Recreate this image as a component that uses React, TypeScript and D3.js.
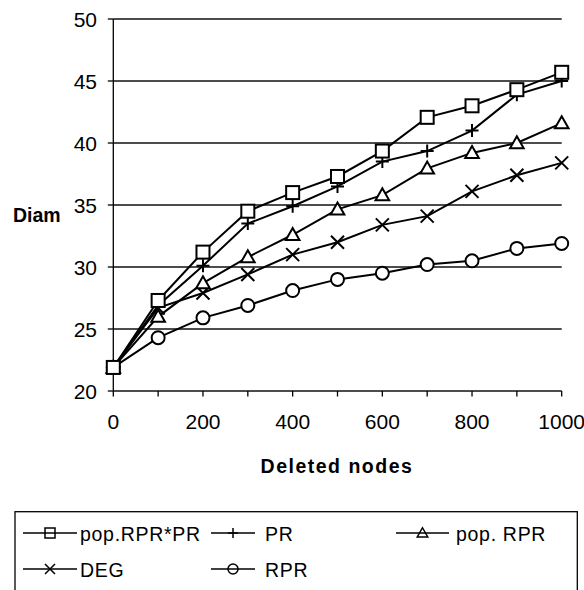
import React from "react";
import * as d3 from "d3";

const xValues = [0, 100, 200, 300, 400, 500, 600, 700, 800, 900, 1000];
const popRprPr = [21.9, 27.3, 31.2, 34.5, 36.0, 37.3, 39.35, 42.07, 43.0, 44.3, 45.7];
const pr = [21.9, 26.9, 30.1, 33.5, 34.9, 36.5, 38.5, 39.35, 41.0, 43.9, 45.0];
const popRpr = [21.9, 26.0, 28.7, 30.8, 32.6, 34.65, 35.8, 37.96, 39.2, 40.0, 41.6];
const deg = [21.9, 26.7, 27.9, 29.4, 31.0, 32.0, 33.4, 34.1, 36.1, 37.4, 38.4];
const rpr = [21.9, 24.3, 25.9, 26.9, 28.1, 29.0, 29.5, 30.2, 30.5, 31.5, 31.9];
const yTicks = [20, 25, 30, 35, 40, 45, 50];
const xTicks = [0, 200, 400, 600, 800, 1000];
const xMinorTicks = [0, 100, 200, 300, 400, 500, 600, 700, 800, 900, 1000];

type MarkerKind = "square" | "plus" | "triangle" | "x" | "circle";
const seriesList: { name: string; values: number[]; marker: MarkerKind }[] = [
  { name: "RPR", values: rpr, marker: "circle" },
  { name: "DEG", values: deg, marker: "x" },
  { name: "pop. RPR", values: popRpr, marker: "triangle" },
  { name: "PR", values: pr, marker: "plus" },
  { name: "pop.RPR*PR", values: popRprPr, marker: "square" },
];

const legendItems: { name: string; marker: MarkerKind; col: number; row: number }[] = [
  { name: "pop.RPR*PR", marker: "square", col: 0, row: 0 },
  { name: "PR", marker: "plus", col: 1, row: 0 },
  { name: "pop. RPR", marker: "triangle", col: 2, row: 0 },
  { name: "DEG", marker: "x", col: 0, row: 1 },
  { name: "RPR", marker: "circle", col: 1, row: 1 },
];

const FONT = "'Liberation Sans', Arial, sans-serif";

function Marker({ kind, cx, cy, s, sw, fill }: { kind: MarkerKind; cx: number; cy: number; s: number; sw: number; fill: string }) {
  const h = s / 2;
  const common = { fill: "none", stroke: "#000", strokeWidth: sw };
  if (kind === "square") {
    return <rect x={cx - h} y={cy - h} width={s} height={s} fill={fill} stroke="#000" strokeWidth={sw} />;
  }
  if (kind === "circle") {
    return <circle cx={cx} cy={cy} r={h} fill={fill} stroke="#000" strokeWidth={sw} />;
  }
  if (kind === "triangle") {
    return (
      <path
        d={`M${cx},${cy - h * 1.05}L${cx + h * 1.05},${cy + h * 0.8}L${cx - h * 1.05},${cy + h * 0.8}Z`}
        fill={fill}
        stroke="#000"
        strokeWidth={sw}
      />
    );
  }
  if (kind === "plus") {
    return <path d={`M${cx - h},${cy}H${cx + h}M${cx},${cy - h}V${cy + h}`} {...common} />;
  }
  return <path d={`M${cx - h},${cy - h}L${cx + h},${cy + h}M${cx - h},${cy + h}L${cx + h},${cy - h}`} {...common} />;
}

export default function App() {
  const W = 584;
  const H = 590;
  const left = 113.3;
  const right = 561.7;
  const top = 19;
  const bottom = 391;
  const x = d3.scaleLinear().domain([0, 1000]).range([left, right]);
  const y = d3.scaleLinear().domain([20, 50]).range([bottom, top]);
  const line = d3
    .line<number>()
    .x((_, i) => x(xValues[i]))
    .y((d) => y(d));

  const legendCols = [
    { lx1: 23, lx2: 77, tx: 80 },
    { lx1: 211, lx2: 255, tx: 265 },
    { lx1: 396, lx2: 449, tx: 456 },
  ];
  const legendRows = [533, 569];

  return (
    <svg
      width={W}
      height={H}
      style={{ position: "absolute", left: 0, top: 0, background: "#fff" }}
      fontFamily={FONT}
    >
      <rect x={0} y={0} width={W} height={H} fill="#fff" />
      {yTicks.map((t) => (
        <line key={"g" + t} x1={left} x2={right} y1={y(t)} y2={y(t)} stroke="#111" strokeWidth={1.3} />
      ))}
      <line x1={left} x2={left} y1={top} y2={bottom} stroke="#000" strokeWidth={1.3} />
      {yTicks.map((t) => (
        <g key={"yt" + t}>
          <line x1={left - 5.5} x2={left} y1={y(t)} y2={y(t)} stroke="#000" strokeWidth={1.3} />
          <text x={97} y={y(t) + 7.5} textAnchor="end" fontSize={21} fill="#000">
            {t}
          </text>
        </g>
      ))}
      {xMinorTicks.map((t) => (
        <line key={"xt" + t} x1={x(t)} x2={x(t)} y1={bottom} y2={bottom + 5.5} stroke="#000" strokeWidth={1.3} />
      ))}
      {xTicks.map((t) => (
        <text key={"xl" + t} x={x(t)} y={429} textAnchor="middle" fontSize={21} fill="#000">
          {t}
        </text>
      ))}
      <text x={13} y={222} fontSize={19.5} fontWeight="bold" fill="#000">
        Diam
      </text>
      <text x={337} y={473} textAnchor="middle" fontSize={19.5} fontWeight="bold" letterSpacing={1.5} fill="#000">
        Deleted nodes
      </text>
      {seriesList.map((s) => (
        <g key={s.name}>
          <path d={line(s.values) || ""} fill="none" stroke="#000" strokeWidth={2} />
          {s.values.map((v, i) => (
            <Marker key={i} kind={s.marker} cx={x(xValues[i])} cy={y(v)} s={13} sw={2} fill="#fff" />
          ))}
        </g>
      ))}
      <rect x={15} y={511.7} width={562.3} height={100} fill="#fff" stroke="#000" strokeWidth={1.3} />
      {legendItems.map((it) => {
        const c = legendCols[it.col];
        const cy = legendRows[it.row];
        return (
          <g key={it.name}>
            <line x1={c.lx1} x2={c.lx2} y1={cy} y2={cy} stroke="#000" strokeWidth={1.5} />
            <Marker kind={it.marker} cx={(c.lx1 + c.lx2) / 2} cy={cy} s={10} sw={1.5} fill="none" />
            <text x={c.tx} y={cy + 7.5} fontSize={19.5} letterSpacing={0.7} fill="#000">
              {it.name}
            </text>
          </g>
        );
      })}
    </svg>
  );
}
